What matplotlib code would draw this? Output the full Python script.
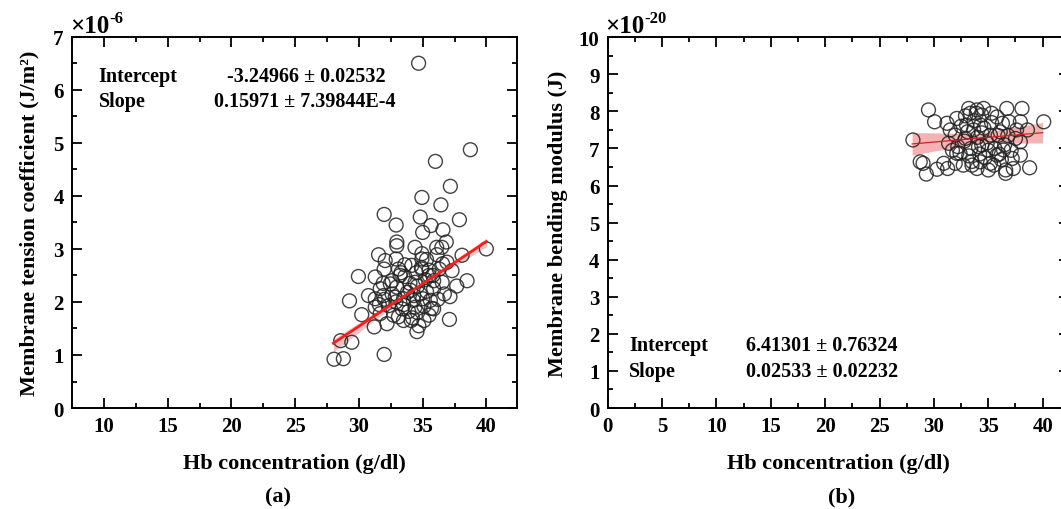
import matplotlib
matplotlib.use("Agg")
import matplotlib.pyplot as plt
import numpy as np
from matplotlib.ticker import MultipleLocator

plt.rcParams['font.family'] = ['Liberation Serif', 'DejaVu Serif']
plt.rcParams['font.weight'] = 'bold'

# ---- panel (a): membrane tension coefficient (x1e-6 J/m^2) ----
hb_a = [34.68, 38.74, 36.0, 37.17, 34.94, 36.43, 31.98, 34.81, 37.88, 32.92,
        35.65, 36.59, 35.0, 32.97, 32.97, 36.85, 36.5, 39.99, 34.4, 36.1,
        34.94, 36.12, 31.54, 38.09, 32.06, 32.92, 34.94, 34.15, 36.56, 31.98,
        33.1, 34.94, 37.3, 33.23, 29.96, 31.28, 32.46, 35.86, 38.48, 36.53,
        34.4, 35.5, 31.67, 32.97, 35.86, 37.67, 34.04, 30.75, 31.28, 31.93,
        32.85, 33.5, 34.28, 35.0, 35.6, 37.14, 29.26, 31.28, 32.33, 33.38,
        34.4, 35.86, 30.22, 31.67, 32.72, 33.5, 34.1, 35.1, 37.1, 31.2,
        32.2, 34.55, 28.57, 29.44, 28.05, 28.78, 31.98,
        33.3, 33.6, 34.0, 34.6, 35.2, 35.5, 33.8, 34.3, 34.8, 35.3,
        32.6, 32.9, 33.5, 33.9, 34.6, 35.1, 35.7, 36.2, 36.7, 32.0,
        31.6, 33.1, 34.9, 35.3, 36.3, 36.9, 33.6, 34.5, 32.6, 31.9,
        35.8, 34.2, 34.7, 35.5]
tension = [6.50, 4.87, 4.65, 4.18, 3.97, 3.83, 3.65, 3.60, 3.55, 3.45,
           3.44, 3.36, 3.31, 3.13, 3.06, 3.13, 3.03, 3.00, 3.03, 3.03,
           2.91, 2.89, 2.89, 2.88, 2.78, 2.81, 2.81, 2.69, 2.72, 2.62,
           2.62, 2.62, 2.59, 2.50, 2.48, 2.47, 2.34, 2.40, 2.40, 2.37,
           2.37, 2.50, 2.25, 2.28, 2.25, 2.30, 2.22, 2.12, 2.06, 2.12,
           2.09, 2.06, 2.03, 2.06, 2.03, 2.10, 2.02, 1.90, 1.93, 1.87,
           1.90, 1.87, 1.76, 1.78, 1.75, 1.65, 1.65, 1.65, 1.67, 1.53,
           1.59, 1.44, 1.27, 1.24, 0.92, 0.93, 1.01,
           2.55, 2.48, 2.35, 2.30, 2.42, 2.60, 2.18, 2.12, 2.15, 2.20,
           2.15, 2.00, 1.95, 1.82, 1.80, 1.92, 1.88, 2.05, 2.15, 2.05,
           1.95, 1.72, 2.65, 2.80, 2.62, 2.75, 2.70, 2.55, 2.40, 2.35,
           2.50, 1.70, 1.55, 1.75]
fit_a = (-3.24966, 0.15971)
band_x_a = [28, 34, 40]
band_lo_a = [1.06, 2.16, 3.04]
band_hi_a = [1.30, 2.22, 3.20]

# ---- panel (b): membrane bending modulus (x1e-20 J) ----
hb_b = [28.07, 29.5, 30.06, 28.74, 29.0, 29.3, 30.28, 30.9, 31.26, 31.2,
        31.35, 31.96, 32.1, 32.1, 32.4, 31.96, 33.2, 33.35, 33.0, 32.9,
        32.7, 33.5, 33.65, 33.96, 34.4, 34.57, 34.3, 34.4, 34.26, 33.96,
        35.0, 35.0, 35.2, 35.2, 35.3, 35.8, 36.1, 36.3, 36.4, 36.6,
        36.7, 36.6, 36.9, 37.2, 37.3, 37.5, 37.95, 37.95, 37.95, 38.1,
        38.6, 38.8, 40.1,
        32.5, 32.8, 33.1, 33.4, 33.7, 34.0, 34.2, 34.6, 34.9, 35.3,
        35.6, 35.9, 36.2, 36.5, 33.2, 34.7, 35.5, 33.9, 34.1, 32.2,
        31.7, 36.8, 37.1, 33.5, 35.8, 34.4, 32.9, 31.5, 36.0, 37.6]
bending = [7.23, 8.04, 7.72, 6.64, 6.60, 6.31, 6.44, 6.60, 6.46, 7.68,
           7.14, 7.36, 7.81, 6.87, 6.87, 6.60, 8.08, 7.95, 7.63, 7.27,
           6.55, 6.55, 7.50, 8.04, 7.90, 8.08, 7.63, 7.09, 6.64, 6.46,
           6.95, 6.42, 6.60, 7.36, 7.95, 6.82, 7.45, 7.68, 6.96, 6.42,
           8.08, 6.33, 7.72, 6.73, 6.46, 7.27, 7.72, 7.18, 6.82, 8.08,
           7.50, 6.48, 7.72,
           7.60, 7.20, 7.45, 7.00, 7.75, 7.30, 6.85, 7.55, 7.15, 7.70,
           7.00, 7.35, 6.70, 7.10, 6.80, 6.75, 6.55, 7.95, 7.05, 7.05,
           6.95, 7.35, 6.95, 6.65, 7.85, 7.42, 7.88, 7.50, 6.85, 7.50]
fit_b = (6.41301, 0.02533)
band_x_b = [28, 34, 40]
band_lo_b = [6.82, 7.14, 7.15]
band_hi_b = [7.43, 7.40, 7.70]

fit_range = np.array([28, 40])


def style_axes(ax, xlim, ylim):
    ax.set_xlim(*xlim)
    ax.set_ylim(*ylim)
    ax.xaxis.set_major_locator(MultipleLocator(5))
    ax.xaxis.set_minor_locator(MultipleLocator(2.5))
    ax.yaxis.set_major_locator(MultipleLocator(1))
    ax.yaxis.set_minor_locator(MultipleLocator(0.5))
    ax.tick_params(which='both', direction='in', top=True, right=True,
                   labelsize=15, width=1.3)
    ax.tick_params(which='major', length=7, pad=6)
    ax.tick_params(which='minor', length=3.5)
    for s in ax.spines.values():
        s.set_linewidth(1.4)
    for lab in ax.get_xticklabels() + ax.get_yticklabels():
        lab.set_fontweight('bold')


def sci_label(fig, x_px, exp):
    # "x10" with a raised exponent, placed in figure pixels from the top-left
    W, H = fig.get_size_inches() * fig.dpi
    t = fig.text(x_px / W, 1 - 33 / H, '×10', fontsize=18, fontweight='bold',
                 ha='left', va='baseline')
    fig.canvas.draw()
    bb = t.get_window_extent()
    fig.text(bb.x1 / W, 1 - 23 / H, exp, fontsize=12, fontweight='bold',
             ha='left', va='baseline')


fig = plt.figure(figsize=(10.61, 5.10), dpi=100)
ax1 = fig.add_axes([0.0679, 0.198, 0.4194, 0.728])
ax2 = fig.add_axes([0.5728, 0.198, 0.4345, 0.727])

txt = dict(fontsize=14.5, fontweight='bold', va='center')

# panel (a)
ax1.fill_between(band_x_a, band_lo_a, band_hi_a, color='#f08080', alpha=0.5, lw=0, zorder=2)
ax1.scatter(hb_a, tension, s=100, facecolors='none', edgecolors='#222222',
            linewidths=1.0, alpha=0.85, zorder=3)
ax1.plot(fit_range, fit_a[0] + fit_a[1] * fit_range, color='#ee2222', lw=2, zorder=4)
style_axes(ax1, (7.5, 42.4), (0, 7))
ax1.set_xticks([10, 15, 20, 25, 30, 35, 40])
ax1.set_xlabel('Hb concentration (g/dl)', fontsize=16, fontweight='bold', labelpad=12)
ax1.set_ylabel('Membrane tension coefficient (J/m²)', fontsize=16, fontweight='bold', labelpad=10)
ax1.text(0.06, 0.895, 'Intercept', transform=ax1.transAxes, **txt)
ax1.text(0.348, 0.895, '-3.24966 ± 0.02532', transform=ax1.transAxes, **txt)
ax1.text(0.06, 0.826, 'Slope', transform=ax1.transAxes, **txt)
ax1.text(0.32, 0.826, '0.15971 ± 7.39844E-4', transform=ax1.transAxes, **txt)

# panel (b)
ax2.fill_between(band_x_b, band_lo_b, band_hi_b, color='#f08080', alpha=0.6, lw=0, zorder=2)
ax2.scatter(hb_b, bending, s=100, facecolors='none', edgecolors='#222222',
            linewidths=1.0, alpha=0.85, zorder=3)
ax2.plot(fit_range, fit_b[0] + fit_b[1] * fit_range, color='#cc2222', lw=0.9, zorder=4)
style_axes(ax2, (0, 42.4), (0, 10))
ax2.set_xlabel('Hb concentration (g/dl)', fontsize=16, fontweight='bold', labelpad=12)
ax2.set_ylabel('Membrane bending modulus (J)', fontsize=16, fontweight='bold', labelpad=8)
ax2.text(0.047, 0.17, 'Intercept', transform=ax2.transAxes, **txt)
ax2.text(0.3, 0.17, '6.41301 ± 0.76324', transform=ax2.transAxes, **txt)
ax2.text(0.047, 0.10, 'Slope', transform=ax2.transAxes, **txt)
ax2.text(0.3, 0.10, '0.02533 ± 0.02232', transform=ax2.transAxes, **txt)

sci_label(fig, 70, '-6')
sci_label(fig, 605, '-20')

fig.text(0.262, 0.024, '(a)', fontsize=16, fontweight='bold', ha='center', va='center')
fig.text(0.793, 0.024, '(b)', fontsize=16, fontweight='bold', ha='center', va='center')

fig.savefig('out.png', dpi=100)
